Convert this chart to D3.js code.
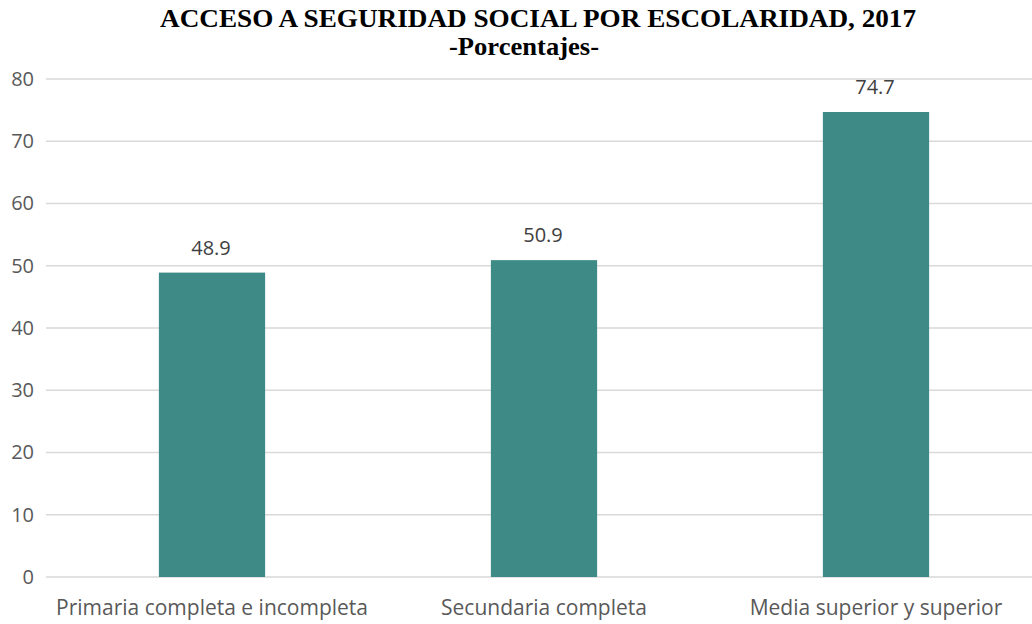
<!DOCTYPE html>
<html>
<head>
<meta charset="utf-8">
<script src="https://cdn.jsdelivr.net/npm/d3@7"></script>
<style>
  html, body { margin: 0; padding: 0; background: #fff; }
  svg { display: block; }
</style>
</head>
<body>
<svg id="chart" width="1032" height="624"></svg>
<script>
// Access to social security by schooling level, 2017 (percent)
const categories = ["Primaria completa e incompleta", "Secundaria completa", "Media superior y superior"];
const values = [48.9, 50.9, 74.7];
const yTicks = [0, 10, 20, 30, 40, 50, 60, 70, 80];
const title = "ACCESO A SEGURIDAD SOCIAL POR ESCOLARIDAD, 2017";
const subtitle = "-Porcentajes-";

const svg = d3.select("#chart");
const W = 1032;

const x = d3.scaleBand()
  .domain(categories)
  .range([46, 1042])
  .paddingInner(0.68)
  .paddingOuter(0.34);

const y = d3.scaleLinear()
  .domain([0, 80])
  .range([577, 79]);

// Titles
svg.append("text")
  .attr("x", 538).attr("y", 27)
  .attr("text-anchor", "middle")
  .attr("textLength", 756)
  .attr("lengthAdjust", "spacingAndGlyphs")
  .style("font-family", "'Liberation Serif', 'Times New Roman', serif")
  .style("font-weight", "bold")
  .style("font-size", "25px")
  .attr("fill", "#000")
  .text(title);

svg.append("text")
  .attr("x", 524).attr("y", 54.5)
  .attr("text-anchor", "middle")
  .attr("textLength", 150)
  .attr("lengthAdjust", "spacingAndGlyphs")
  .style("font-family", "'Liberation Serif', 'Times New Roman', serif")
  .style("font-weight", "bold")
  .style("font-size", "25px")
  .attr("fill", "#000")
  .text(subtitle);

// Horizontal gridlines
svg.append("g")
  .selectAll("line")
  .data(yTicks)
  .join("line")
  .attr("x1", 46).attr("x2", W)
  .attr("y1", d => y(d)).attr("y2", d => y(d))
  .attr("stroke", "#d9d9d9")
  .attr("stroke-width", 1.5);

// Y axis labels
const yAxis = d3.axisLeft(y).tickValues(yTicks).tickSize(0).tickPadding(0);
const gy = svg.append("g").attr("transform", "translate(34,0)").call(yAxis);
gy.select(".domain").remove();
gy.selectAll("text")
  .attr("fill", "#595959")
  .style("font-family", "'Open Sans', sans-serif")
  .style("font-size", "20px");

// Bars
svg.append("g")
  .selectAll("rect")
  .data(values)
  .join("rect")
  .attr("x", (d, i) => x(categories[i]))
  .attr("width", x.bandwidth())
  .attr("y", d => y(d))
  .attr("height", d => y(0) - y(d))
  .attr("fill", "#3d8a86");

// Value labels
svg.append("g")
  .selectAll("text")
  .data(values)
  .join("text")
  .attr("x", (d, i) => x(categories[i]) + x.bandwidth() / 2 - 1)
  .attr("y", d => y(d) - 18)
  .attr("text-anchor", "middle")
  .attr("fill", "#404040")
  .style("font-family", "'Open Sans', sans-serif")
  .style("font-size", "20px")
  .text(d => d.toFixed(1));

// Category labels
const xAxis = d3.axisBottom(x).tickSize(0).tickPadding(0);
const gx = svg.append("g").attr("transform", "translate(0,600)").call(xAxis);
gx.select(".domain").remove();
gx.selectAll("text")
  .attr("fill", "#595959")
  .style("font-family", "'Open Sans', sans-serif")
  .style("font-size", "21px");
</script>
</body>
</html>
